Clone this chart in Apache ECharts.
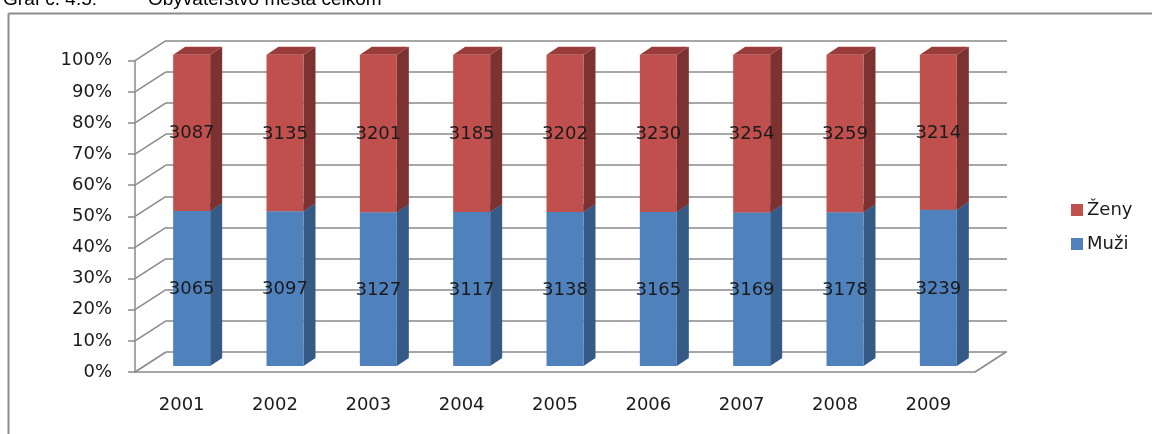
<!DOCTYPE html>
<html><head><meta charset="utf-8">
<script src="https://cdn.jsdelivr.net/npm/echarts@6/dist/echarts.min.js"></script>
<style>html,body{margin:0;padding:0;background:#fff}#c{width:1152px;height:434px}</style>
</head><body><div id="c"></div>
<script>
const years = ['2001','2002','2003','2004','2005','2006','2007','2008','2009'];
const zeny = [3087,3135,3201,3185,3202,3230,3254,3259,3214];
const muzi = [3065,3097,3127,3117,3138,3165,3169,3178,3239];
const yTicks = [0,0.1,0.2,0.3,0.4,0.5,0.6,0.7,0.8,0.9,1];
const titleLeft = 'Graf č. 4.5:';
const titleRight = 'Obyvateľstvo mesta celkom';
const seriesNames = ['Ženy','Muži'];

const WALL = [31,-20];
const BAR_OFF = [10,-6];
const BAR_W = 37, BAR_D = [12,-8];
const FONT = '"DejaVu Sans", sans-serif';
const GRID_COL = '#8a8a8a';

const muziData = years.map((y,i)=>[i, 0, muzi[i]/(muzi[i]+zeny[i]), muzi[i]]);
const zenyData = years.map((y,i)=>[i, muzi[i]/(muzi[i]+zeny[i]), 1, zeny[i]]);

function barRender(c){
  return function(params, api){
    const i = api.value(0), s = api.value(1), e = api.value(2), lab = api.value(3);
    const p0 = api.coord([i, s]), p1 = api.coord([i, e]);
    const cx = p0[0]+BAR_OFF[0], yb = p0[1]+BAR_OFF[1], yt = p1[1]+BAR_OFF[1];
    const xl = cx-BAR_W/2, xr = cx+BAR_W/2, dx = BAR_D[0], dy = BAR_D[1];
    return {type:'group', children:[
      {type:'polygon', shape:{points:[[xr,yb],[xr+dx,yb+dy],[xr+dx,yt+dy],[xr,yt]]}, style:{fill:c.side}},
      {type:'polygon', shape:{points:[[xl,yt],[xr,yt],[xr+dx,yt+dy],[xl+dx,yt+dy]]}, style:{fill:c.top}},
      {type:'rect', shape:{x:xl,y:yt,width:BAR_W,height:yb-yt}, style:{fill:c.front}},
      {type:'text', x:cx, y:(yt+yb)/2+1, z2:10, style:{text:String(lab), align:'center', verticalAlign:'middle', font:'18px '+FONT, fill:'#1a1a1a'}}
    ]};
  };
}

function diagRender(params, api){
  const v = api.value(1), side = api.value(2);
  const p = api.coord([api.value(0), v]);
  const half = api.size([1,0])[0]/2;
  const x = side ? p[0]+half : p[0]-half;
  return {type:'line', shape:{x1:x, y1:p[1], x2:x+WALL[0], y2:p[1]+WALL[1]}, style:{stroke:GRID_COL, lineWidth:1.5}};
}
const diagData = yTicks.map(v=>[0, v, 0]).concat([[years.length-1, 0, 1]]);

const chart = echarts.init(document.getElementById('c'));
chart.setOption({
  animation:false,
  backgroundColor:'#fff',
  graphic:[
    {type:'line', shape:{x1:8.5,y1:13.5,x2:1152,y2:13.5}, style:{stroke:'#8c8c8c', lineWidth:2}},
    {type:'line', shape:{x1:8.5,y1:13.5,x2:8.5,y2:434}, style:{stroke:'#8c8c8c', lineWidth:2}},
    {type:'text', x:97, y:0, style:{text:titleLeft, align:'right', verticalAlign:'middle', font:'19px "Liberation Sans", sans-serif', fill:'#000'}},
    {type:'text', x:148, y:0, style:{text:titleRight, align:'left', verticalAlign:'middle', font:'19px "Liberation Sans", sans-serif', fill:'#000'}}
  ],
  legend:{
    data:[{name:seriesNames[0], icon:'rect'},{name:seriesNames[1], icon:'rect'}],
    orient:'vertical', left:1066, top:196, itemWidth:12, itemHeight:12, itemGap:16,
    textStyle:{fontFamily:FONT, fontSize:18, color:'#1a1a1a', padding:[0,0,0,-1]}
  },
  grid:[
    {left:135, right:177, top:60.7, bottom:62},
    {left:166, right:145, top:40.7, bottom:82}
  ],
  xAxis:[
    {type:'category', gridIndex:0, data:years,
     axisLine:{lineStyle:{color:GRID_COL, width:1.5}},
     axisTick:{length:7, lineStyle:{color:GRID_COL, width:1.5}},
     axisLabel:{margin:24, fontFamily:FONT, fontSize:18, color:'#1a1a1a'}},
    {type:'value', gridIndex:1, min:0, max:1, show:false}
  ],
  yAxis:[
    {type:'value', gridIndex:0, min:0, max:1, interval:0.1,
     axisLine:{show:true, lineStyle:{color:GRID_COL, width:1.5}},
     axisTick:{show:true, length:7, lineStyle:{color:GRID_COL, width:1.5}},
     splitLine:{show:false},
     axisLabel:{margin:23, fontFamily:FONT, fontSize:18, color:'#1a1a1a', formatter:v=>Math.round(v*100)+'%'}},
    {type:'value', gridIndex:1, min:0, max:1, interval:0.1,
     axisLine:{show:false}, axisTick:{show:false}, axisLabel:{show:false},
     splitLine:{show:true, lineStyle:{color:GRID_COL, width:1.5}}}
  ],
  series:[
    {type:'custom', name:'diag', xAxisIndex:0, yAxisIndex:0, data:diagData, renderItem:diagRender, z:1, silent:true},
    {type:'custom', name:seriesNames[1], xAxisIndex:0, yAxisIndex:0, data:muziData, z:3,
     itemStyle:{color:'#4F81BD'}, encode:{x:0, y:[1,2]},
     renderItem:barRender({front:'#4F81BD', side:'#355A86', top:'#3F6797'})},
    {type:'custom', name:seriesNames[0], xAxisIndex:0, yAxisIndex:0, data:zenyData, z:4,
     itemStyle:{color:'#C0504D'}, encode:{x:0, y:[1,2]},
     renderItem:barRender({front:'#C0504D', side:'#7C3230', top:'#9A3D3A'})}
  ]
});
</script>
</body></html>
